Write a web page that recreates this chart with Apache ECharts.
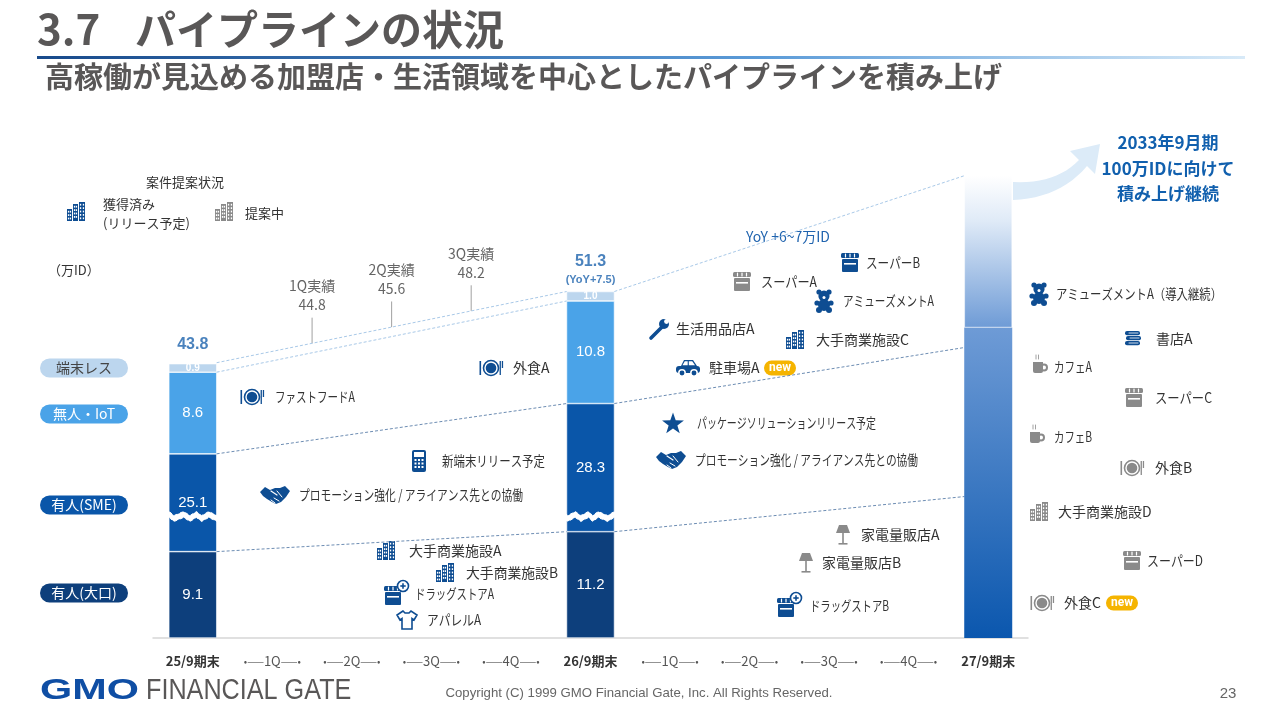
<!DOCTYPE html>
<html lang="ja">
<head>
<meta charset="utf-8">
<title>3.7 パイプラインの状況</title>
<script src="https://cdn.jsdelivr.net/npm/echarts@6.0.0/dist/echarts.min.js"></script>
<style>
html, body { margin: 0; padding: 0; background: #fff; }
#chart { width: 1280px; height: 720px; }
</style>
</head>
<body>
<div id="chart"></div>
<script>
var JP = "'Noto Sans CJK JP', 'Noto Sans', sans-serif";

// 横軸：期末と四半期
var categories = ['25/9期末', '1Q', '2Q', '3Q', '4Q', '26/9期末', '1Q', '2Q', '3Q', '4Q', '27/9期末'];
var barSlots = [0, 5];
// 区分別ID数（万ID）
var segNames = ['有人(大口)', '有人(SME)', '無人・IoT', '端末レス'];
var ooguchi = [9.1, 11.2];
var sme = [25.1, 28.3];
var iot = [8.6, 10.8];
var termless = [0.9, 1.0];
var totals = [43.8, 51.3];
var yoyText = ['', '(YoY+7.5)'];
// 四半期実績
var quarterNames = ['1Q実績', '2Q実績', '3Q実績'];
var quarterValues = [44.8, 45.6, 48.2];
var quarterPos = [1.5, 2.5, 3.5];
// 27/9期末 見込み
var outlookSlot = 10;
var outlookBase = [47.5];
var outlookTop = [63.5];
var outlookLinks = [63.5, 45.4, 29.7];   // 合計 / SME上端 / 大口上端 の延長先

var segColors = ['#0d3f7c', '#0a56a9', '#4aa3e8', '#bcd6ee'];
var pillText = ['#fff', '#fff', '#fff', '#444'];
var edge = 0.3;
var totalLabelGap = [8, 3];

function slot(vals, slots) {
    var a = categories.map(function () { return '-'; });
    slots.forEach(function (s, i) { a[s] = vals[i]; });
    return a;
}

// 積み上げ上端
var cum = [];
var run = [0, 0];
[ooguchi, sme, iot, termless].forEach(function (arr) {
    run = run.map(function (v, i) { return +(v + arr[i]).toFixed(1); });
    cum.push(run.slice());
});

// ---- 図形ヘルパー ----
function R(x, y, w, h, fill, r) { return { type: 'rect', shape: { x: x, y: y, width: w, height: h, r: r || 0 }, style: { fill: fill } }; }
function C(cx, cy, r, fill, stroke, lw) { return { type: 'circle', shape: { cx: cx, cy: cy, r: r }, style: { fill: fill || 'none', stroke: stroke || null, lineWidth: lw || 0 } }; }
function P(pts, fill, stroke, lw) { return { type: 'polygon', shape: { points: pts }, style: { fill: fill || 'none', stroke: stroke || null, lineWidth: lw || 0 } }; }
function L(x1, y1, x2, y2, stroke, lw) { return { type: 'line', shape: { x1: x1, y1: y1, x2: x2, y2: y2 }, style: { stroke: stroke, lineWidth: lw || 1, lineCap: 'round' } }; }
function quad(p0, p1, p2, n) {
    var out = [];
    for (var i = 0; i <= n; i++) {
        var t = i / n, u = 1 - t;
        out.push([u * u * p0[0] + 2 * u * t * p1[0] + t * t * p2[0], u * u * p0[1] + 2 * u * t * p1[1] + t * t * p2[1]]);
    }
    return out;
}

var icons = {
    bldg: function (c) {
        var b = [[-9, -3, 5, 12], [-3, -8, 5, 17], [3, -10, 6, 19]];
        var k = [];
        b.forEach(function (q) {
            k.push(R(q[0], q[1], q[2], q[3], c));
            for (var yy = q[1] + 1.8; yy < q[1] + q[3] - 2; yy += 3.4) {
                k.push(R(q[0] + 0.9, yy, 1.3, 1.8, '#fff'));
                k.push(R(q[0] + q[2] - 2.2, yy, 1.3, 1.8, '#fff'));
            }
        });
        return k;
    },
    plate: function (c) {
        return [R(-11.5, -7, 1.6, 14, c), C(0, 0, 7.5, '#fff', c, 1.6), C(0, 0, 5.3, c),
            R(8.6, -7, 1.3, 14, c), R(10.8, -7, 1.3, 7, c)];
    },
    hand: function (c) {
        return [P([[-15, -3], [-10, -8], [-5, -5], [0, -7], [5, -7], [10, -9], [15, -4], [11, 2], [6, 7], [1, 9], [-3, 7], [-8, 4], [-12, 1]], c),
            L(-4, -4, 2, 0, '#fff', 1.2), L(-1, 3, 4, 6, '#fff', 1), L(-4, 5, 0, 8, '#fff', 1), L(2, -4, 7, 2, '#fff', 1)];
    },
    calc: function (c) {
        var k = [R(-7, -11, 14, 22, c, 2), R(-5, -9, 10, 5, '#fff')];
        [-4.5, -1, 2.5].forEach(function (x) { [-2, 1.5, 5].forEach(function (y) { k.push(R(x, y, 2, 2, '#fff')); }); });
        return k;
    },
    star: function (c) {
        var pts = [];
        for (var i = 0; i < 10; i++) {
            var r = i % 2 ? 4.6 : 11.5, a = -Math.PI / 2 + i * Math.PI / 5;
            pts.push([r * Math.cos(a), r * Math.sin(a) + 1]);
        }
        return [P(pts, c)];
    },
    wrench: function (c) {
        return [L(-8, 9, 3, -2, c, 3.6), C(5, -5, 5, c), C(7.5, -7.5, 2.4, '#fff')];
    },
    car: function (c) {
        return [R(-12, -2, 24, 7, c, 3), P([[-7, -2], [-4, -8], [5, -8], [9, -2]], c),
            P([[-5.5, -2.8], [-3.2, -6.8], [-0.3, -6.8], [-0.3, -2.8]], '#fff'),
            P([[0.8, -2.8], [0.8, -6.8], [4.2, -6.8], [7, -2.8]], '#fff'),
            C(-6, 5, 3.2, c, '#fff', 1.5), C(6, 5, 3.2, c, '#fff', 1.5)];
    },
    shop: function (c) {
        return [R(-9, -10, 18, 5, c, 1.5), L(-4.5, -9, -4.5, -6, '#fff', 1.2), L(0, -9, 0, -6, '#fff', 1.2), L(4.5, -9, 4.5, -6, '#fff', 1.2),
            R(-8, -4, 16, 13, c, 1), R(-6, 0, 12, 1.6, '#fff')];
    },
    bear: function (c) {
        return [C(-5, -9, 2.6, c), C(5, -9, 2.6, c), C(0, -5, 5.6, c), C(-7, 2, 2.6, c), C(7, 2, 2.6, c),
            C(0, 4, 6, c), C(-5, 9, 3, c), C(5, 9, 3, c), C(0, -3.5, 1.5, '#fff')];
    },
    lamp: function (c) {
        return [P([[-4, -10], [4, -10], [7, -2], [-7, -2]], c), R(-0.8, -2, 1.6, 10, c), R(-4.5, 8, 9, 1.6, c)];
    },
    drug: function (c) {
        return [{ type: 'group', x: -3, y: 2, children: icons.shop(c) }, C(7, -8, 5.5, '#fff', c, 1.6),
            R(4.3, -8.8, 5.4, 1.6, c), R(6.2, -10.7, 1.6, 5.4, c)];
    },
    shirt: function (c) {
        return [P([[-4, -9], [-10, -5], [-7, 0], [-5, -1.5], [-5, 9], [5, 9], [5, -1.5], [7, 0], [10, -5], [4, -9], [2, -7], [-2, -7]], '#fff', c, 1.6)];
    },
    cup: function (c) {
        return [L(-4, -12, -4, -8, c, 0.8), L(-1.5, -12, -1.5, -8, c, 0.8),
            R(-7, -5, 10, 11, c, [0, 0, 2, 2]), C(4, 0.5, 3, 'none', c, 2)];
    },
    books: function (c) {
        return [R(-8, -8, 15, 4.2, c, 2), R(-7, -3, 15, 4.2, c, 2), R(-8, 2, 15, 4.2, c, 2),
            L(-4, -6, 5, -6, '#fff', 0.8), L(-3, -1, 6, -1, '#fff', 0.8), L(-4, 4, 5, 4, '#fff', 0.8)];
    }
};
var iconColor = { b: '#0e4d92', g: '#8a8a8a' };

// 注記（アイコン・テキスト位置はレイアウト）
var notes = [
    ['plate', 'b', 491, 368, '外食A', 513, 552],
    ['plate', 'b', 252, 397, 'ファストフードA', 275, 355],
    ['calc', 'b', 419, 461, '新端末リリース予定', 442, 545],
    ['hand', 'b', 275, 495, 'プロモーション強化 / アライアンス先との協働', 299, 523],
    ['bldg', 'b', 386, 551, '大手商業施設A', 409, 503],
    ['bldg', 'b', 445, 573, '大手商業施設B', 466, 558],
    ['drug', 'b', 396, 594, 'ドラッグストアA', 415, 494],
    ['shirt', 'b', 407, 620, 'アパレルA', 427, 481],
    ['shop', 'b', 850, 263, 'スーパーB', 866, 920],
    ['shop', 'g', 742, 282, 'スーパーA', 761, 817],
    ['bear', 'b', 824, 301, 'アミューズメントA', 843, 934],
    ['wrench', 'b', 659, 329, '生活用品店A', 676, 755],
    ['bldg', 'b', 795, 340, '大手商業施設C', 816, 909],
    ['car', 'b', 688, 368, '駐車場A', 709, 760, 780],
    ['star', 'b', 673, 423, 'パッケージソリューションリリース予定', 697, 876],
    ['hand', 'b', 671, 460, 'プロモーション強化 / アライアンス先との協働', 695, 918],
    ['lamp', 'g', 843, 535, '家電量販店A', 861, 940],
    ['lamp', 'g', 806, 563, '家電量販店B', 822, 902],
    ['drug', 'b', 789, 606, 'ドラッグストアB', 810, 889],
    ['bear', 'b', 1039, 294, 'アミューズメントA（導入継続）', 1056, 1222],
    ['books', 'b', 1133, 339, '書店A', 1156, 1193],
    ['cup', 'g', 1040, 367, 'カフェA', 1054, 1092],
    ['shop', 'g', 1134, 398, 'スーパーC', 1155, 1212],
    ['cup', 'g', 1037, 437, 'カフェB', 1054, 1092],
    ['plate', 'g', 1132, 468, '外食B', 1155, 1193],
    ['bldg', 'g', 1039, 512, '大手商業施設D', 1058, 1153],
    ['shop', 'g', 1132, 561, 'スーパーD', 1147, 1203],
    ['plate', 'g', 1042, 603, '外食C', 1064, 1101, 1122]
];

var mctx = document.createElement('canvas').getContext('2d');
function fitText(x, y, s, font, fill, maxW) {
    mctx.font = font;
    var w = mctx.measureText(s).width;
    var sx = maxW && w > maxW ? maxW / w : 1;
    return { type: 'text', x: x, y: y, scaleX: sx, style: { text: s, font: font, fill: fill, align: 'left', verticalAlign: 'middle' } };
}
function T(x, y, s, font, fill, align, extra) {
    var st = { text: s, font: font, fill: fill, align: align || 'left', verticalAlign: 'middle' };
    for (var k in extra || {}) st[k] = extra[k];
    return { type: 'text', x: x, y: y, style: st };
}
function badge(x, y) {
    return { type: 'group', x: x, y: y, children: [R(-16, -7.5, 32, 15, '#f5b400', 7.5),
        T(0, 0, 'new', 'bold 12px Roboto, sans-serif', '#fff', 'center')] };
}

var gfx = [];
// タイトル
gfx.push(T(37, 29, '3.7', 'bold 42px ' + JP, '#595757'));
gfx.push(T(135, 29, 'パイプラインの状況', 'bold 41px ' + JP, '#595757'));
gfx.push({ type: 'rect', shape: { x: 37, y: 56, width: 1208, height: 3 }, style: { fill: { type: 'linear', x: 0, y: 0, x2: 1, y2: 0, colorStops: [{ offset: 0, color: '#184a8b' }, { offset: 0.6, color: '#5b9bd8' }, { offset: 1, color: '#d8eaf8' }] } } });
gfx.push(T(45, 77, '高稼働が見込める加盟店・生活領域を中心としたパイプラインを積み上げ', 'bold 29px ' + JP, '#595757'));
// 凡例
gfx.push(T(185, 182, '案件提案状況', '13px ' + JP, '#333', 'center'));
gfx.push({ type: 'group', x: 76, y: 212, children: icons.bldg(iconColor.b) });
gfx.push(T(103, 204, '獲得済み', '13px ' + JP, '#333'));
gfx.push(T(103, 223, '(リリース予定)', '13px ' + JP, '#333'));
gfx.push({ type: 'group', x: 224, y: 212, children: icons.bldg(iconColor.g) });
gfx.push(T(245, 213, '提案中', '13px ' + JP, '#333'));
gfx.push(T(48, 270, '（万ID）', '13px ' + JP, '#333'));
// 区分ラベル
var pillY = [593, 505, 414, 368];
segNames.forEach(function (n, i) {
    gfx.push({ type: 'group', x: 84, y: pillY[i], children: [R(-44, -9.5, 88, 19, segColors[i], 9.5),
        T(0, 0, n, '14px ' + JP, pillText[i], 'center')] });
});
// 注記
notes.forEach(function (n) {
    gfx.push({ type: 'group', x: n[2], y: n[3], children: icons[n[0]](iconColor[n[1]]) });
    gfx.push(fitText(n[5], n[3], n[4], '14px ' + JP, '#333', n[6] - n[5]));
    if (n[7]) gfx.push(badge(n[7], n[3]));
});
gfx.push(T(788, 237, 'YoY +6~7万ID', '14px ' + JP, '#1f63ae', 'center', { backgroundColor: '#fff', padding: [1, 3] }));
// 右上矢印とコメント
var arrowPts = quad([1013, 182], [1056, 184], [1079, 160], 12)
    .concat([[1070, 151], [1100, 144], [1095, 174], [1087, 166]])
    .concat(quad([1087, 166], [1060, 198], [1013, 200], 12));
gfx.push(P(arrowPts, '#dcebf8'));
gfx.push({ type: 'text', x: 1168, y: 130, style: { text: '2033年9月期\n100万IDに向けて\n積み上げ継続', font: 'bold 17px ' + JP, fill: '#1160ae', align: 'center', verticalAlign: 'top', lineHeight: 25.5 } });
// フッター
gfx.push({ type: 'text', x: 40, y: 691, scaleX: 1.38, style: { text: 'GMO', font: 'bold 30px "Liberation Sans", sans-serif', fill: '#0f4ea4', align: 'left', verticalAlign: 'middle' } });
gfx.push({ type: 'text', x: 146, y: 691, scaleX: 0.84, style: { text: 'FINANCIAL GATE', font: '30px "Liberation Sans", sans-serif', fill: '#595757', align: 'left', verticalAlign: 'middle' } });
gfx.push(T(639, 693, 'Copyright (C) 1999 GMO Financial Gate, Inc. All Rights Reserved.', '13.2px "Liberation Sans", sans-serif', '#666', 'center'));
gfx.push(T(1228, 694, '23', '15px "Liberation Sans", sans-serif', '#666', 'center'));

// ---- シリーズ ----
var series = [];
[ooguchi, sme, iot, termless].forEach(function (arr, i) {
    series.push({
        type: 'bar', name: segNames[i], stack: 'id', barWidth: 48,
        data: slot(arr, barSlots),
        itemStyle: { color: segColors[i], borderColor: '#fff', borderWidth: 0.6 },
        label: { show: true, position: 'inside', color: '#fff', fontFamily: '"Liberation Sans", sans-serif', fontSize: i === 3 ? 10 : 15, fontWeight: i === 3 ? 'bold' : 'normal',
            formatter: function (p) { return (+p.value).toFixed(1); } }
    });
});
series.push({
    type: 'bar', name: '見込み', stack: 'id', barWidth: 48, z: 200,
    data: slot(outlookBase, [outlookSlot]),
    itemStyle: { color: { type: 'linear', x: 0, y: 0, x2: 0, y2: 1, colorStops: [{ offset: 0, color: '#6e9bd6' }, { offset: 1, color: '#0b57ae' }] } }
});
series.push({
    type: 'bar', name: '見込み上', stack: 'id', barWidth: 48, z: 200,
    data: slot([+(outlookTop[0] - outlookBase[0]).toFixed(1)], [outlookSlot]),
    itemStyle: { borderColor: 'rgba(255,255,255,0.6)', borderWidth: 0.8, color: { type: 'linear', x: 0, y: 0, x2: 0, y2: 1, colorStops: [{ offset: 0, color: '#ffffff' }, { offset: 0.3, color: '#dfeaf7' }, { offset: 1, color: '#6e9bd6' }] } }
});

// 期末間をつなぐ破線
function link(p, q, color) {
    series.push({ type: 'line', xAxisIndex: 1, symbol: 'none', silent: true, z: 150,
        data: [p, q], lineStyle: { color: color, width: 1, type: [3, 2] } });
}
cum.forEach(function (c, k) {
    var top = k === 3 ? totals : c;
    link([barSlots[0] + edge, top[0]], [barSlots[1] - edge, top[1]], k >= 2 ? '#a9c9e8' : '#6d8db3');
});
[[totals, 0, '#a9c9e8'], [cum[1], 1, '#6d8db3'], [cum[0], 2, '#6d8db3']].forEach(function (d) {
    link([barSlots[1] + edge, d[0][1]], [outlookSlot - edge, outlookLinks[d[1]]], d[2]);
});

// 四半期実績の引き出し線
var x0 = barSlots[0] + edge, x1 = barSlots[1] - edge;
var qLabel = [];
quarterPos.forEach(function (qx, i) {
    var yb = totals[0] + (qx - x0) / (x1 - x0) * (totals[1] - totals[0]);
    var yt = yb + 2.7;
    series.push({ type: 'line', xAxisIndex: 1, symbol: 'none', silent: true, data: [[qx, yb], [qx, yt]], lineStyle: { color: '#a0a0a0', width: 1 } });
    qLabel.push([qx, yt, quarterNames[i], quarterValues[i]]);
});
series.push({
    type: 'scatter', xAxisIndex: 1, symbolSize: 1, itemStyle: { color: 'rgba(0,0,0,0)' }, data: qLabel,
    label: { show: true, position: 'top', distance: 3, color: '#3d3d3d', fontSize: 14, lineHeight: 19, fontFamily: JP,
        formatter: function (p) { return p.value[2] + '\n' + p.value[3].toFixed(1); } }
});
// 合計ラベル
series.push({
    type: 'scatter', xAxisIndex: 1, symbolSize: 1, itemStyle: { color: 'rgba(0,0,0,0)' },
    data: barSlots.map(function (s, i) { return { value: [s, totals[i]], label: { distance: totalLabelGap[i] } }; }),
    label: { show: true, position: 'top',
        formatter: function (p) { var s = '{a|' + totals[p.dataIndex].toFixed(1) + '}'; return yoyText[p.dataIndex] ? s + '\n{b|' + yoyText[p.dataIndex] + '}' : s; },
        rich: { a: { fontSize: 16, fontWeight: 'bold', color: '#1d63ad', fontFamily: '"Liberation Sans", sans-serif', lineHeight: 20 },
            b: { fontSize: 11, fontWeight: 'bold', color: '#1d63ad', fontFamily: '"Liberation Sans", sans-serif', lineHeight: 16 } } }
});

var chart = echarts.init(document.getElementById('chart'), null, { renderer: 'canvas' });
chart.setOption({
    animation: false,
    backgroundColor: '#fff',
    textStyle: { fontFamily: JP },
    grid: { left: 153, right: 252, top: 114, bottom: 82, outerBoundsMode: 'none' },
    xAxis: [{
        type: 'category', data: categories,
        axisLine: { lineStyle: { color: '#d6d6d6', width: 1.5 } },
        axisTick: { show: false },
        axisLabel: { interval: 0, margin: 17,
            formatter: function (v) { return v.indexOf('期末') >= 0 ? '{b|' + v + '}' : '{d|•——}{q|' + v + '}{d|——•}'; },
            rich: { b: { fontSize: 13, fontWeight: 'bold', color: '#333', fontFamily: JP },
                q: { fontSize: 13, color: '#555', fontFamily: JP },
                d: { fontSize: 10, color: '#555', fontFamily: JP } } }
    }, {
        type: 'value', min: -0.5, max: 10.5, show: false
    }],
    yAxis: {
        type: 'value', min: 0, max: 70,
        axisLine: { show: false }, axisTick: { show: false }, axisLabel: { show: false }, splitLine: { show: false },
        breaks: [{ start: 12.5, end: 27.9, gap: 0.6 }],
        breakArea: { show: true, expandOnClick: false, zigzagAmplitude: 2, zigzagMinSpan: 4, zigzagMaxSpan: 10,
            itemStyle: { color: '#fff', borderColor: '#fff', borderWidth: 1, opacity: 1 } }
    },
    graphic: { elements: gfx },
    series: series
});
</script>
</body>
</html>
